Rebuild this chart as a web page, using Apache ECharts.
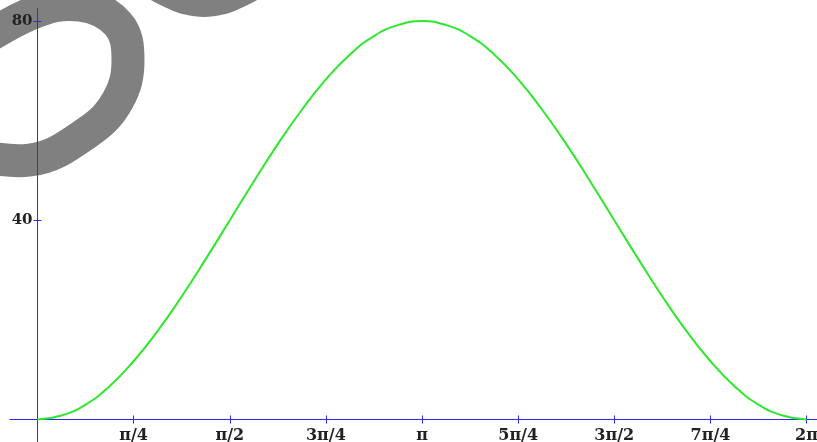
<!DOCTYPE html>
<html>
<head>
<meta charset="utf-8">
<script src="https://cdn.jsdelivr.net/npm/echarts@6/dist/echarts.min.js"></script>
<style>
    html, body {margin: 0; padding: 0; background: #fff;}
    #chart {width: 817px; height: 442px;}
</style>
</head>
<body>
<div id="chart"></div>
<script>
// sample points along x (radians, steps of pi/16)
let xValues = [0, 0.196, 0.393, 0.589, 0.785, 0.982, 1.178, 1.374, 1.571, 1.767, 1.963, 2.160, 2.356, 2.553, 2.749, 2.945,
    3.142, 3.338, 3.534, 3.731, 3.927, 4.123, 4.320, 4.516, 4.712, 4.909, 5.105, 5.301, 5.498, 5.694, 5.890, 6.087, 6.283];
// curve values
let yValues = [0, 0.8, 3.0, 6.7, 11.7, 17.8, 24.7, 32.2, 40, 47.8, 55.3, 62.2, 68.3, 73.3, 77.0, 79.2,
    80, 79.2, 77.0, 73.3, 68.3, 62.2, 55.3, 47.8, 40, 32.2, 24.7, 17.8, 11.7, 6.7, 3.0, 0.8, 0];

let xTickValues = [0.785, 1.571, 2.356, 3.142, 3.927, 4.712, 5.498, 6.283];
let xTickLabels = ['π/4', 'π/2', '3π/4', 'π', '5π/4', '3π/2', '7π/4', '2π'];
let yTickValues = [40, 80];
let yTickLabels = ['40', '80'];

let chart = echarts.init(document.getElementById('chart'));

let axisColor = '#2a2aff';
let xMin = -0.2247, xMax = 6.3685;
let yMin = -4.518, yMax = 82.43;

function pair(list, labels) {
    return function (value) {
        for (let i = 0; i < list.length; i++) {
            if (Math.abs(list[i] - value) < 1e-6) {
                return labels[i];
            }
        }
        return '';
    };
}

function font(size) {
    return {fontFamily: 'DejaVu Serif', fontWeight: 'bold', fontSize: size, color: '#222'};
}

// axis through zero, ticks crossing the line (one axis outside + one inside)
function lineAxis(min, max, ticks, inside, position) {
    return {
        type: 'value',
        position: position,
        min: min,
        max: max,
        axisLine: {show: true, onZero: true, lineStyle: {color: axisColor, width: 1}},
        axisTick: {show: true, customValues: ticks, length: 4, inside: inside, lineStyle: {color: axisColor}},
        axisLabel: {show: false},
        splitLine: {show: false}
    };
}

// label-only axis kept on the grid edge, labels pulled back onto the zero line
function labelAxis(min, max, ticks, labels, size, margin, position) {
    return {
        type: 'value',
        position: position,
        min: min,
        max: max,
        axisLine: {show: false, onZero: false},
        axisTick: {show: false},
        axisLabel: Object.assign({customValues: ticks, margin: margin, formatter: pair(ticks, labels)}, font(size)),
        splitLine: {show: false}
    };
}

let points = xValues.map(function (x, i) {
    return [x, yValues[i]];
});

let option = {
    animation: false,
    graphic: [
        {
            // grey scribble over the top-left corner
            type: 'polyline',
            z: -10,
            shape: {
                points: [[-45, 58], [30, 14], [80, 5], [118, 24], [128, 60], [118, 100], [88, 132], [30, 160], [-45, 150]],
                smooth: 0.4
            },
            style: {fill: null, stroke: '#808080', lineWidth: 33}
        },
        {
            type: 'polygon',
            z: -10,
            shape: {
                points: [[150, -2], [170, 9.4], [185, 14.6], [204, 17], [223, 14.6], [238, 9.4], [258, -2]],
                smooth: 0.3
            },
            style: {fill: '#808080', stroke: null}
        }
    ],
    grid: {left: 10, right: 0, top: 9, bottom: 0, containLabel: false, outerBoundsMode: 'none'},
    xAxis: [
        lineAxis(xMin, xMax, xTickValues, false, 'bottom'),
        lineAxis(xMin, xMax, xTickValues, true, 'bottom'),
        labelAxis(xMin, xMax, xTickValues, xTickLabels, 16, -14.5, 'bottom')
    ],
    yAxis: [
        lineAxis(yMin, yMax, yTickValues, false, 'left'),
        lineAxis(yMin, yMax, yTickValues, true, 'left'),
        labelAxis(yMin, yMax, yTickValues, yTickLabels, 15, -22.5, 'left')
    ],
    series: [{
        type: 'line',
        xAxisIndex: 0,
        yAxisIndex: 0,
        data: points,
        smooth: true,
        showSymbol: false,
        lineStyle: {color: '#2ee82e', width: 2}
    }]
};

chart.setOption(option);
</script>
</body>
</html>
